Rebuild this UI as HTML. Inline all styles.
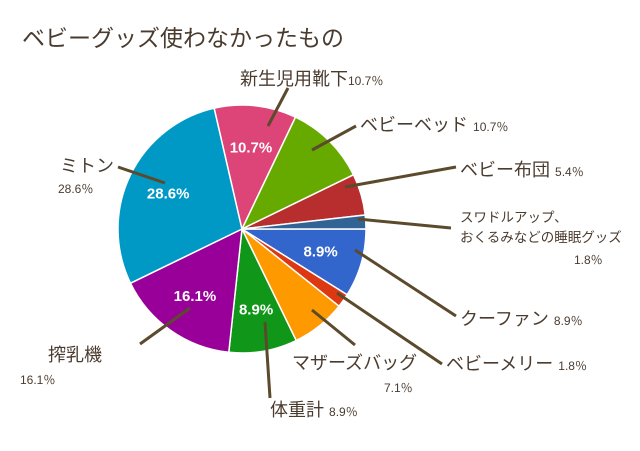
<!DOCTYPE html>
<html><head><meta charset="utf-8"><style>
body{margin:0;background:#fff;width:640px;height:451px;overflow:hidden;font-family:"Liberation Sans","Noto Sans CJK JP",sans-serif;}
svg{display:block}
.lb{fill:#4a3b2f;font-size:18px}
.pc{fill:#4a3b2f;font-size:12px}
.in{fill:#fff;font-size:15px;font-weight:bold}
</style></head><body>
<svg id="c" width="640" height="451">
<text x="22" y="46" style="fill:#4a3b2f;font-size:23px">ベビーグッズ使わなかったもの</text>
<g id="slices"></g>
<g id="lines" stroke="#5b4a2c" stroke-width="3" fill="none">
<line x1="288" y1="88" x2="268" y2="126"/>
<line x1="312" y1="150" x2="356" y2="126"/>
<line x1="345" y1="187" x2="456" y2="167"/>
<line x1="358" y1="219" x2="451" y2="228"/>
<line x1="355" y1="250" x2="456" y2="316"/>
<line x1="337" y1="293" x2="442" y2="364"/>
<line x1="312" y1="310" x2="355" y2="345"/>
<line x1="265" y1="322" x2="270" y2="398"/>
<line x1="190" y1="308" x2="140" y2="344"/>
<line x1="165" y1="183" x2="118" y2="167"/>
</g>
<g>
<text x="240" y="85" class="lb">新生児用靴下<tspan class="pc">10.7％</tspan></text>
<text x="360" y="131" class="lb">ベビーベッド <tspan class="pc">10.7％</tspan></text>
<text x="460" y="176" class="lb">ベビー布団 <tspan class="pc">5.4％</tspan></text>
<text x="460" y="222" style="fill:#4a3b2f;font-size:13.5px">スワドルアップ、</text>
<text x="460" y="242" style="fill:#4a3b2f;font-size:13.5px">おくるみなどの睡眠グッズ</text>
<text x="574" y="264" class="pc">1.8％</text>
<text x="460" y="325" class="lb">クーファン <tspan class="pc">8.9％</tspan></text>
<text x="446" y="370" class="lb">ベビーメリー <tspan class="pc">1.8％</tspan></text>
<text x="292" y="369" class="lb">マザーズバッグ</text>
<text x="384" y="392" class="pc">7.1％</text>
<text x="270" y="416" class="lb">体重計 <tspan class="pc">8.9％</tspan></text>
<text x="48" y="361" class="lb">搾乳機</text>
<text x="20" y="384" class="pc">16.1％</text>
<text x="60" y="172" class="lb">ミトン</text>
<text x="58" y="193" class="pc">28.6％</text>
</g>
<g id="inlabels"></g>
</svg>
<script>
const categories=["クーファン","ベビーメリー","マザーズバッグ","体重計","搾乳機","ミトン","新生児用靴下","ベビーベッド","ベビー布団","スワドルアップ"];
const values=[8.9,1.8,7.1,8.9,16.1,28.6,10.7,10.7,5.4,1.8];
const printed=["8.9%","","","8.9%","16.1%","28.6%","10.7%","","",""];
const colors=["#3366cc","#dc3912","#ff9900","#109618","#990099","#0099c6","#dd4477","#66aa00","#b82e2e","#316395"];
const cx=242,cy=229,r=124;
const total=values.reduce((a,b)=>a+b,0);
const NS="http://www.w3.org/2000/svg";
let a=Math.PI/2;
const g=document.getElementById('slices'),gi=document.getElementById('inlabels');
function pt(ang,rr){return [cx+rr*Math.sin(ang),cy-rr*Math.cos(ang)];}
values.forEach((v,i)=>{
 const sweep=v/total*2*Math.PI;
 const p1=pt(a,r),p2=pt(a+sweep,r);
 const p=document.createElementNS(NS,'path');
 p.setAttribute('d',`M${cx},${cy}L${p1[0]},${p1[1]}A${r},${r} 0 ${sweep>Math.PI?1:0} 1 ${p2[0]},${p2[1]}Z`);
 p.setAttribute('fill',colors[i]);p.setAttribute('stroke','#fff');p.setAttribute('stroke-width','1.5');
 
 
 g.appendChild(p);
 if(printed[i]){
  const m=pt(a+sweep/2,r*0.66);
  const t=document.createElementNS(NS,'text');
  t.setAttribute('x',m[0]);t.setAttribute('y',m[1]+5);t.setAttribute('text-anchor','middle');t.setAttribute('class','in');
  t.textContent=printed[i];
  
  
  gi.appendChild(t);
 }
 a+=sweep;
});
</script>
</body></html>
